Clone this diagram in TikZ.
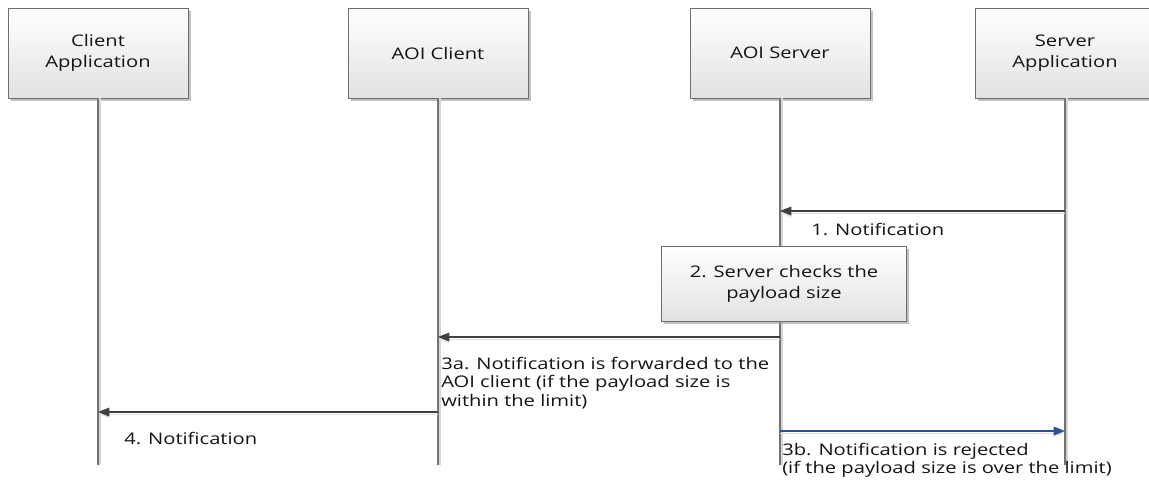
\documentclass[tikz,border=0pt]{standalone}
\usepackage{fontspec}
\setmainfont{Open Sans}[FakeStretch=1.26]
\usetikzlibrary{arrows.meta,shadows}

\definecolor{boxline}{RGB}{110,110,110}
\definecolor{boxshade}{RGB}{226,226,226}
\definecolor{lifeline}{RGB}{115,115,115}
\definecolor{lifeshade}{RGB}{214,214,214}
\definecolor{msgline}{RGB}{64,64,64}
\definecolor{msgblue}{RGB}{47,82,143}
\definecolor{txt}{RGB}{20,20,20}

\begin{document}
\begin{tikzpicture}[x=0.75pt,y=-0.75pt]

% Styles
\tikzset{
    actor/.style={draw=boxline, top color=white, bottom color=boxshade,
        minimum width=135pt, minimum height=67.5pt, align=center, text=txt,
        font=\fontsize{12}{15.5}\selectfont,
        drop shadow={shadow xshift=2pt, shadow yshift=-2pt, fill=black!40, opacity=.6}},
    life/.style={draw=lifeline, line width=1pt},
    lifeshadow/.style={draw=lifeshade, line width=1pt},
    msg/.style={draw=msgline, line width=.8pt, -{Triangle[length=8.5pt,width=6.5pt]},
        preaction={draw=black!12, transform canvas={yshift=-1.5pt}}},
    msglabel/.style={inner sep=0pt, align=left, text=txt,
        font=\fontsize{12}{14}\selectfont}
}
\path[use as bounding box, fill=white] (0,0) rectangle (1149,479);

% Actors
\node[actor] (CliApp) at (98,53) {Client\\Application};
\node[actor] (AOIC) at (438,53) {AOI Client};
\node[actor] (AOIS) at (780,53) {AOI Server};
\node[actor] (SrvApp) at (1065,53) {Server\\Application};

% Lifelines
\foreach \a in {CliApp,AOIC,AOIS,SrvApp}{
    \coordinate (\a-end) at (\a.south |- 0,465);
    \draw[lifeshadow] ([xshift=1.5pt]\a.south) -- ([xshift=1.5pt]\a-end);
    \draw[life] (\a.south) -- (\a-end);
}

% Server checks
\node[actor, minimum width=183.75pt, minimum height=56.25pt] (Check) at (784,284)
    {2. Server checks the\\payload size};

% Messages
\coordinate (m1a) at (SrvApp.south |- 0,211);
\coordinate (m1b) at (AOIS.south |- 0,211);
\coordinate (m3a) at (AOIS.south |- 0,337);
\coordinate (m3b) at (AOIC.south |- 0,337);
\coordinate (m4a) at (AOIC.south |- 0,412);
\coordinate (m4b) at (CliApp.south |- 0,412);
\coordinate (r3a) at (AOIS.south |- 0,431);
\coordinate (r3b) at (SrvApp.south |- 0,431);

\draw[msg] (m1a) -- (m1b);
\draw[msg] (m3a) -- (m3b);
\draw[msg] (m4a) -- (m4b);
\draw[msg, draw=msgblue, preaction={draw=none}] (r3a) -- (r3b);

% Labels
\node[msglabel, anchor=west] (L1) at (811,229) {1. Notification};
\node[msglabel, anchor=north west] (L3a) at (441,356.5)
    {3a. Notification is forwarded to the\\AOI client (if the payload size is\\within the limit)};
\node[msglabel, anchor=west] (L4) at (124,438) {4. Notification};
\node[msglabel, anchor=north west] (L3b) at (782,442.5)
    {3b. Notification is rejected\\(if the payload size is over the limit)};
\end{tikzpicture}
\end{document}
